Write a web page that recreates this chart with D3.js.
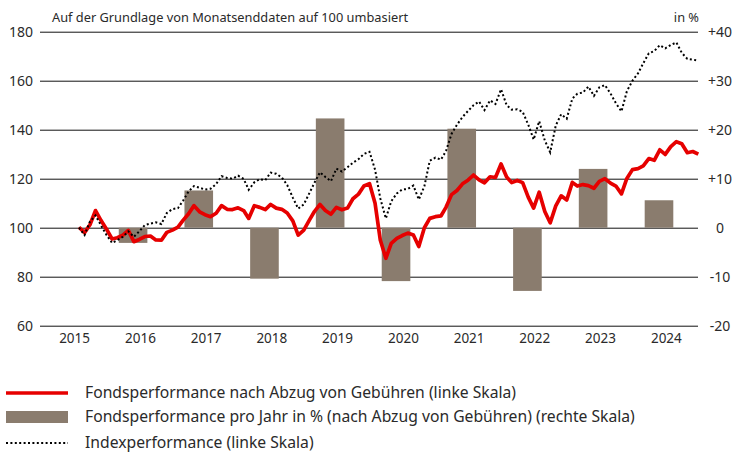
<!DOCTYPE html>
<html>
<head>
<meta charset="utf-8">
<script src="https://cdn.jsdelivr.net/npm/d3@7"></script>
<style>
  body { margin: 0; background: #fff; }
  text { font-family: "Noto Sans", sans-serif; fill: #2a2a2a; }
</style>
</head>
<body>
<div id="chart"></div>
<script>
// years shown on the x axis
var years = [2015, 2016, 2017, 2018, 2019, 2020, 2021, 2022, 2023, 2024];
var leftTicks = [60, 80, 100, 120, 140, 160, 180];
var rightTicks = [-20, -10, 0, 10, 20, 30, 40];

// yearly fund performance in % (right scale)
var barYears = [2016, 2017, 2018, 2019, 2020, 2021, 2022, 2023, 2024];
var barValues = [-3.1, 7.6, -10.4, 22.3, -10.9, 20.2, -12.9, 12.0, 5.6];

// month-end values from Jul 2015, rebased to 100 (left scale)
var fundValues = [
  100.2, 98.0, 101.2, 107.0, 103.0, 99.4, 95.4, 95.9, 97.0, 98.9, 94.3, 95.2,
  96.4, 96.6, 95.0, 94.9, 98.1, 99.0, 100.2, 103.0, 105.7, 109.0, 106.5, 105.3,
  104.5, 105.9, 109.0, 107.5, 107.4, 108.1, 107.0, 103.8, 109.0, 108.3, 107.4, 109.5,
  108.0, 107.5, 106.0, 102.8, 97.0, 99.0, 103.1, 106.6, 109.5, 107.0, 105.5, 108.3,
  107.3, 108.0, 111.8, 113.7, 117.0, 118.0, 110.0, 95.0, 87.5, 93.6, 95.6, 96.8,
  97.8, 97.0, 92.3, 100.0, 103.8, 104.5, 104.8, 108.3, 113.5, 115.2, 117.9, 119.4,
  121.5, 119.5, 118.3, 120.8, 120.5, 126.0, 120.7, 118.4, 119.3, 118.4, 112.5, 108.0,
  114.5, 106.6, 102.0, 108.9, 113.0, 111.3, 118.5, 117.0, 117.6, 117.2, 116.1, 118.9,
  120.0, 118.2, 117.0, 113.8, 120.1, 123.7, 124.1, 125.2, 128.2, 127.5, 131.8, 129.9,
  133.1, 135.1, 134.3, 130.6, 131.1, 130.0
];
var indexValues = [
  100.0, 97.0, 102.5, 105.0, 101.0, 97.0, 93.8, 94.9, 96.3, 98.5, 96.3, 98.5,
  101.1, 101.7, 102.2, 101.5, 106.0, 107.6, 108.0, 111.0, 114.8, 117.0, 116.3, 115.6,
  115.9, 117.8, 121.0, 120.3, 120.0, 121.2, 119.9, 115.5, 118.5, 119.8, 119.4, 122.5,
  122.0, 120.5, 117.4, 112.3, 107.8, 109.5, 114.1, 118.3, 122.6, 120.7, 119.0, 124.1,
  122.9, 124.7, 126.5, 128.0, 130.1, 131.0, 123.7, 112.0, 103.8, 110.8, 114.0, 115.6,
  115.8, 117.2, 111.5, 116.9, 127.3, 128.6, 127.8, 131.3, 138.3, 142.0, 145.2, 147.6,
  150.0, 151.5, 148.0, 152.0, 150.5, 156.5, 150.0, 148.2, 148.3, 147.3, 142.1, 136.0,
  143.5, 135.6, 130.8, 141.7, 146.3, 144.5, 152.7, 154.7, 155.2, 157.6, 153.8, 157.3,
  158.2, 154.8, 150.8, 147.5, 155.7, 160.0, 163.0, 167.1, 171.2, 172.1, 174.5, 173.2,
  174.6, 175.6, 171.4, 168.9, 168.6, 168.2
];

var legendLabels = [
  "Fondsperformance nach Abzug von Gebühren (linke Skala)",
  "Fondsperformance pro Jahr in % (nach Abzug von Gebühren) (rechte Skala)",
  "Indexperformance (linke Skala)"
];

var svgwidth = 732;
var svgheight = 455;
var plotLeft = 40, plotRight = 698, plotTop = 31.7, plotBottom = 325.7;

var svg = d3.select("#chart").append("svg")
    .attr("width", svgwidth)
    .attr("height", svgheight);

var xScale = d3.scaleTime()
    .domain([new Date(2015, 0, 1), new Date(2025, 0, 1)])
    .range([41, 698.5]);

var yScale = d3.scaleLinear().domain([60, 180]).range([plotBottom, plotTop]);
var yRight = d3.scaleLinear().domain([-20, 40]).range([plotBottom, plotTop]);

// grid + left labels
var yAxis = d3.axisLeft(yScale)
    .tickValues(leftTicks)
    .tickSize(-(plotRight - plotLeft))
    .tickPadding(7);

var gy = svg.append("g")
    .attr("transform", "translate(" + plotLeft + ",0)")
    .call(yAxis);
gy.select(".domain").remove();
gy.selectAll("line").attr("stroke", "#111").attr("stroke-width", 1);
gy.selectAll("text").style("font-size", "14px").attr("fill", "#2a2a2a");

// right labels
var rAxis = d3.axisRight(yRight)
    .tickValues(rightTicks)
    .tickSize(0)
    .tickFormat(function(d){ return d > 0 ? "+" + d : String(d); });
var gr = svg.append("g")
    .attr("transform", "translate(" + (plotRight + 22) + ",0)")
    .call(rAxis);
gr.select(".domain").remove();
gr.selectAll("text").style("font-size", "14px").attr("text-anchor", "middle").attr("x", 0).attr("fill", "#2a2a2a");

// year labels centred in each year
svg.append("g").selectAll("text")
    .data(years).enter().append("text")
    .attr("x", function(d){ return xScale(new Date(d, 6, 1)) + 1; })
    .attr("y", 343)
    .attr("text-anchor", "middle")
    .style("font-size", "13.5px")
    .text(function(d){ return d; });

// bars
svg.append("g").selectAll("rect")
    .data(barYears).enter().append("rect")
    .attr("x", function(d){ return xScale(new Date(d, 2, 8)); })
    .attr("width", function(d){ return xScale(new Date(d, 7, 14)) - xScale(new Date(d, 2, 8)); })
    .attr("y", function(d, i){ return yRight(Math.max(0, barValues[i])); })
    .attr("height", function(d, i){ return Math.abs(yRight(barValues[i]) - yRight(0)); })
    .attr("fill", "#8a7c6e");

var monthDate = function(i){ return new Date(2015, 7 + i, 0); };

var line = d3.line()
    .x(function(d, i){ return xScale(monthDate(i)); })
    .y(function(d){ return yScale(d); });

svg.append("path")
    .datum(fundValues)
    .attr("d", line)
    .attr("fill", "none")
    .attr("stroke", "#e60000")
    .attr("stroke-width", 3.7)
    .attr("stroke-linejoin", "round");

svg.append("path")
    .datum(indexValues)
    .attr("d", line)
    .attr("fill", "none")
    .attr("stroke", "#000")
    .attr("stroke-width", 2)
    .attr("stroke-dasharray", "2,2.4");

// header texts
svg.append("text")
    .attr("x", 52).attr("y", 22)
    .style("font-size", "12.8px")
    .text("Auf der Grundlage von Monatsenddaten auf 100 umbasiert");
svg.append("text")
    .attr("x", 699).attr("y", 22)
    .attr("text-anchor", "end")
    .style("font-size", "12.8px")
    .text("in %");

// legend
var lg = svg.append("g");
var rows = [393, 417, 443];
lg.append("line").attr("x1", 6).attr("x2", 68).attr("y1", rows[0]).attr("y2", rows[0])
    .attr("stroke", "#e60000").attr("stroke-width", 3.5);
lg.append("rect").attr("x", 6).attr("y", rows[1] - 6).attr("width", 62).attr("height", 12)
    .attr("fill", "#8a7c6e");
lg.append("line").attr("x1", 6).attr("x2", 68).attr("y1", rows[2]).attr("y2", rows[2])
    .attr("stroke", "#000").attr("stroke-width", 2).attr("stroke-dasharray", "2,2.4");
lg.selectAll("text.lab")
    .data(legendLabels).enter().append("text")
    .attr("class", "lab")
    .attr("x", 85)
    .attr("y", function(d, i){ return rows[i] + 5; })
    .style("font-size", "15.7px")
    .text(function(d){ return d; });
</script>
</body>
</html>
